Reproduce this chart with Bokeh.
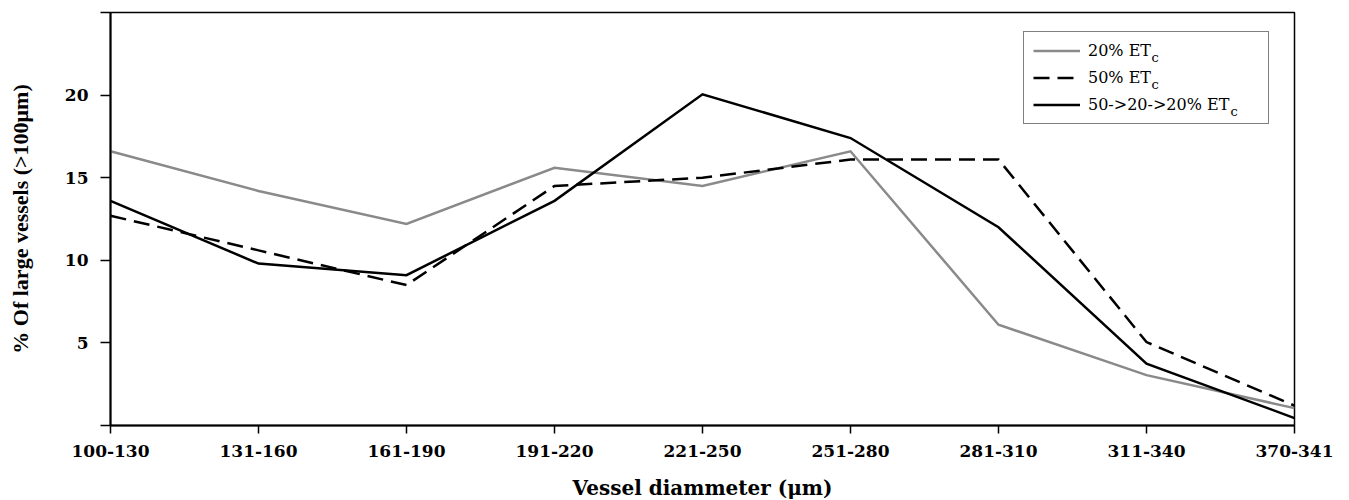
from bokeh.plotting import figure
from bokeh.models import FixedTicker, Range1d, Legend, LegendItem, Label
from bokeh.embed import file_html
from bokeh.resources import INLINE

# ---- data ----
categories = ["100-130", "131-160", "161-190", "191-220", "221-250",
              "251-280", "281-310", "311-340", "370-341"]
pct_20 = [16.6, 14.2, 12.2, 15.6, 14.5, 16.6, 6.1, 3.05, 1.05]
pct_50 = [12.7, 10.6, 8.5, 14.5, 15.0, 16.1, 16.1, 5.05, 1.2]
pct_50_20_20 = [13.6, 9.8, 9.1, 13.6, 20.05, 17.4, 12.0, 3.75, 0.45]
series_labels = ["20% ET", "50% ET", "50->20->20% ET"]
y_ticks = [0, 5, 10, 15, 20, 25]
y_tick_labels = ["", "5", "10", "15", "20", ""]

xs = list(range(len(categories)))

FRAME_L, FRAME_T, FRAME_W, FRAME_H = 110, 12, 1184, 413
Y_MAX = 25

p = figure(frame_width=FRAME_W, frame_height=FRAME_H,
           x_range=Range1d(0, len(categories) - 1), y_range=Range1d(0, Y_MAX),
           output_backend="svg", toolbar_location=None,
           min_border_left=FRAME_L, min_border_right=55,
           min_border_top=FRAME_T, min_border_bottom=75,
           background_fill_color="white", border_fill_color="white")

p.xgrid.visible = False
p.ygrid.visible = False
p.outline_line_color = "black"
p.outline_line_width = 1.5
p.outline_line_alpha = 1.0

r1 = p.line(xs, pct_20, line_color="#8a8a8a", line_width=2.5, line_join="miter")
r2 = p.line(xs, pct_50, line_color="black", line_width=2.5, line_dash="16 8", line_join="miter")
r3 = p.line(xs, pct_50_20_20, line_color="black", line_width=2.5, line_join="miter")

# axes
xa = p.xaxis[0]
xa.ticker = FixedTicker(ticks=xs)
xa.major_label_overrides = {i: c for i, c in zip(xs, categories)}
xa.minor_tick_line_color = None
xa.major_tick_in = 0
xa.major_tick_out = 8
xa.major_tick_line_width = 1.5
xa.axis_line_width = 2
xa.axis_line_color = "black"
xa.major_label_text_font = "DejaVu Serif"
xa.major_label_text_font_style = "bold"
xa.major_label_text_font_size = "17px"
xa.major_label_text_color = "black"
xa.major_label_standoff = 11
xa.axis_label = "Vessel diammeter (\u03bcm)"
xa.axis_label_text_font = "DejaVu Serif"
xa.axis_label_text_font_style = "bold"
xa.axis_label_text_font_size = "20px"
xa.axis_label_text_color = "black"
xa.axis_label_standoff = 16

ya = p.yaxis[0]
ya.ticker = FixedTicker(ticks=y_ticks)
ya.major_label_overrides = {t: l for t, l in zip(y_ticks, y_tick_labels)}
ya.minor_tick_line_color = None
ya.major_tick_in = 0
ya.major_tick_out = 10
ya.major_tick_line_width = 1.5
ya.axis_line_width = 2
ya.axis_line_color = "black"
ya.major_label_text_font = "DejaVu Serif"
ya.major_label_text_font_style = "bold"
ya.major_label_text_font_size = "17px"
ya.major_label_text_color = "black"
ya.major_label_standoff = 12
ya.axis_label = "% Of large vessels (>100\u03bcm)"
ya.axis_label_text_font = "Liberation Serif"
ya.axis_label_text_font_style = "bold"
ya.axis_label_text_font_size = "22px"
ya.axis_label_text_color = "black"
ya.axis_label_standoff = 29

# legend
LEG_L, LEG_B = 1023, 124
legend = Legend(
    items=[LegendItem(label=series_labels[0], renderers=[r1]),
           LegendItem(label=series_labels[1], renderers=[r2]),
           LegendItem(label=series_labels[2], renderers=[r3])],
    location=(LEG_L - FRAME_L, FRAME_T + FRAME_H - LEG_B),
    border_line_color="black", border_line_width=1.5,
    background_fill_alpha=0.0,
    padding=9, spacing=8, label_height=19, glyph_height=19, glyph_width=47,
    label_standoff=8, label_width=171, margin=0,
    label_text_font="DejaVu Serif", label_text_font_size="16px",
    label_text_color="black",
)
p.add_layout(legend)

# subscript "c" after each legend label
def px_to_x(px):
    return (px - FRAME_L) / FRAME_W * (len(categories) - 1)

def py_to_y(py):
    return Y_MAX * (FRAME_T + FRAME_H - py) / FRAME_H

label_x0 = LEG_L + 9 + 47 + 8
label_widths = [63, 63, 142]
row_centers = [51.5, 78.5, 105.5]
for w, rc in zip(label_widths, row_centers):
    p.add_layout(Label(x=px_to_x(label_x0 + w + 1), y=py_to_y(rc + 5.5),
                       x_units="data", y_units="data", text="c",
                       text_font="DejaVu Serif", text_font_size="13px",
                       text_baseline="middle", text_align="left",
                       text_color="black", level="overlay"))

open("out.html", "w").write(file_html(p, INLINE))
